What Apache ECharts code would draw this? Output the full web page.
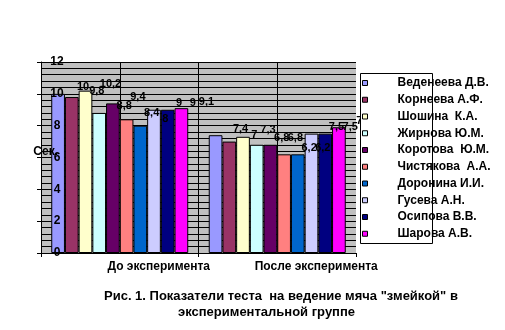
<!DOCTYPE html>
<html>
<head>
<meta charset="utf-8">
<script src="https://cdn.jsdelivr.net/npm/echarts@6/dist/echarts.min.js"></script>
<style>
html,body{margin:0;padding:0;background:#fff;}
#chart{width:505px;height:330px;}
</style>
</head>
<body>
<div id="chart"></div>
<script>
const categories = ['До эксперимента', 'После эксперимента'];
const names = ['Веденеева Д.В.', 'Корнеева А.Ф.', 'Шошина  К.А.', 'Жирнова Ю.М.', 'Коротова  Ю.М.',
  'Чистякова  А.А.', 'Доронина И.И.', 'Гусева А.Н.', 'Осипова В.В.', 'Шарова А.В.'];
const valuesBefore = [10, 9.8, 10.2, 8.8, 9.4, 8.4, 8, 9, 9, 9.1];
const valuesAfter = [7.4, 7, 7.3, 6.8, 6.8, 6.2, 6.2, 7.5, 7.5, 7.9];
const colors = ['#9999FF', '#993366', '#FFFFCC', '#CCFFFF', '#660066',
  '#FF8080', '#0066CC', '#CCCCFF', '#000080', '#FF00FF'];
const yMin = 0, yMax = 12, yStep = 2;
const titleLine1 = 'Рис. 1. Показатели теста  на ведение мяча "змейкой" в';
const titleLine2 = 'экспериментальной группе';
const yName = 'Сек.';

const FONT = '"Liberation Sans", Arial, sans-serif';

const series = names.map((n, i) => ({
  type: 'bar',
  name: n,
  data: [valuesBefore[i], valuesAfter[i]],
  barGap: '0%',
  barCategoryGap: '13%',
  itemStyle: { color: colors[i], borderColor: '#000', borderWidth: 1 },
  label: {
    show: true, position: 'top', distance: 1, offset: [25, 0],
    formatter: p => String(p.value).replace('.', ','),
    fontWeight: 'bold', fontSize: 11, color: '#000', fontFamily: FONT
  }
}));

const chart = echarts.init(document.getElementById('chart'), null, { renderer: 'canvas' });
chart.setOption({
  animation: false,
  backgroundColor: '#fff',
  textStyle: { fontFamily: FONT },
  title: [
    { text: titleLine1, left: 104, top: 290, padding: 0,
      textStyle: { fontSize: 13, fontWeight: 'bold', color: '#000', fontFamily: FONT } },
    { text: titleLine2, left: 178, top: 306, padding: 0,
      textStyle: { fontSize: 13, fontWeight: 'bold', color: '#000', fontFamily: FONT } }
  ],
  grid: { left: 41, right: 149, top: 62, bottom: 77, show: true, backgroundColor: '#C0C0C0', borderWidth: 0 },
  legend: {
    orient: 'vertical', left: 362, top: 77, padding: 0, z: 60,
    itemWidth: 5, itemHeight: 5, itemGap: 4.75, icon: 'rect',
    itemStyle: { borderColor: '#000', borderWidth: 1 },
    textStyle: { fontWeight: 'bold', fontSize: 12, lineHeight: 12, color: '#000', padding: [0, 0, 0, 25], fontFamily: FONT },
    data: names
  },
  graphic: [{
    type: 'rect', z: 50,
    shape: { x: 360.5, y: 73.5, width: 72, height: 170 },
    style: { fill: '#fff', stroke: '#000', lineWidth: 1 }
  }],
  xAxis: [
    { type: 'category', data: categories, position: 'bottom', z: 10,
      axisLine: { show: true, lineStyle: { color: '#000', width: 1 } },
      axisTick: { show: true, length: 4, lineStyle: { color: '#000' } },
      axisLabel: { interval: 0, margin: 8, fontWeight: 'bold', fontSize: 12, color: '#000', padding: [0, 0, 0, 78], fontFamily: FONT },
      splitLine: { show: false } },
    { type: 'value', min: 0, max: 4, interval: 1, position: 'top', z: 0,
      axisLine: { show: false }, axisTick: { show: false }, axisLabel: { show: false },
      splitLine: { show: true, lineStyle: { color: ['#000', '#000', '#000', '#000', 'rgba(0,0,0,0)'], width: 1 } } }
  ],
  yAxis: [
    { type: 'value', min: yMin, max: yMax, interval: yStep, position: 'left', z: 0,
      axisLine: { show: false }, axisTick: { show: false }, axisLabel: { show: false },
      splitLine: { show: true, lineStyle: { color: '#000', width: 1 } },
      minorTick: { show: false, splitNumber: 5 },
      minorSplitLine: { show: true, lineStyle: { color: '#000', width: 1 } } },
    { type: 'value', min: yMin, max: yMax, interval: yStep, position: 'left', z: 10,
      axisLine: { show: true, lineStyle: { color: '#000', width: 1 } },
      axisTick: { show: true, length: 4, lineStyle: { color: '#000' } },
      axisLabel: { margin: -16, align: 'center', fontWeight: 'bold', fontSize: 12, color: '#000', fontFamily: FONT },
      splitLine: { show: false },
      name: yName, nameLocation: 'middle', nameRotate: 0, nameGap: -17, nameMoveOverlap: false,
      nameTextStyle: { fontWeight: 'bold', fontSize: 12, color: '#000', align: 'right', verticalAlign: 'bottom', fontFamily: FONT } }
  ],
  series: series
});
</script>
</body>
</html>
